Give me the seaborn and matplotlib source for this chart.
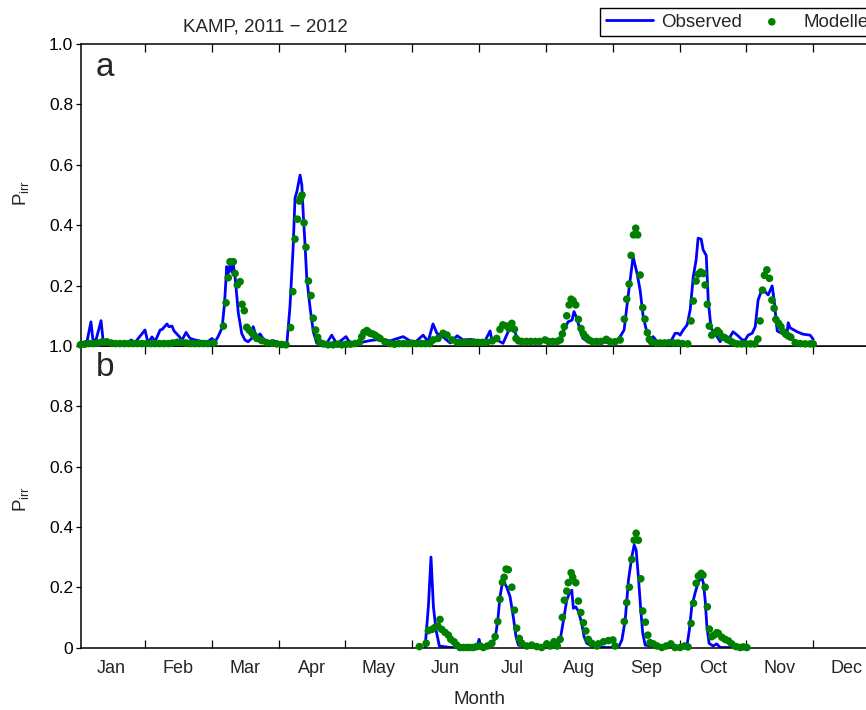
import numpy as np
import pandas as pd
import matplotlib
matplotlib.use("Agg")
import matplotlib.pyplot as plt
import seaborn as sns

# ---------------- data (day of year, probability of irrigation) ----------------
months = ["Jan", "Feb", "Mar", "Apr", "May", "Jun", "Jul", "Aug", "Sep", "Oct", "Nov", "Dec"]

obs_a_day = [0.8, 4.0, 5.8, 6.7, 8.1, 10.4, 11.3, 14.5, 19.0, 23.6, 24.0, 25.9, 30.4, 31.8, 33.6, 35.0,
             37.3, 38.2, 40.4, 41.3, 42.7, 43.6, 45.4, 47.3, 49.1, 50.9, 53.2, 56.4, 59.1, 60.9, 62.3,
             63.6, 65.5, 66.6, 67.6, 68.3, 69.1, 69.9, 70.6, 71.4, 72.2, 72.9, 73.7, 74.4, 75.9, 77.3,
             79.0, 79.7, 81.0, 82.8, 84.1, 86.4, 88.7, 91.0, 92.8, 94.1, 95.0, 96.4, 97.8, 98.7, 99.5,
             101.0, 101.8, 102.5, 103.3, 104.0, 105.5, 107.0, 108.6, 110.1, 111.5, 113.3, 115.4, 117.7,
             121.9, 123.7, 128.3, 132.9, 137.4, 142.0, 147.9, 151.1, 153.8, 157.0, 159.3, 161.5, 163.3,
             166.1, 169.3, 172.5, 175.2, 178.4, 182.9, 185.2, 187.5, 188.3, 190.6, 193.4, 195.7, 197.5,
             198.9, 200.2, 205.7, 212.5, 219.4, 220.7, 223.0, 224.8, 225.7, 227.1, 228.4, 229.8, 232.1,
             237.6, 244.4, 246.7, 248.5, 250.3, 252.2, 252.6, 254.4, 255.8, 257.2, 259.0, 260.4, 261.7,
             263.5, 266.3, 269.5, 271.7, 273.1, 274.0, 275.4, 277.2, 278.6, 280.0, 281.3, 282.2, 283.6,
             284.5, 285.9, 286.8, 288.1, 290.0, 292.2, 293.6, 295.9, 298.1, 300.0, 302.3, 303.6, 305.0,
             306.8, 308.2, 309.5, 311.4, 312.7, 314.1, 315.9, 316.8, 318.2, 319.1, 320.9, 322.7, 323.2,
             324.1, 327.3, 330.0, 333.2, 334.6]
obs_a_val = [0.01, 0.015, 0.08, 0.02, 0.02, 0.084, 0.02, 0.01, 0.01, 0.01, 0.02, 0.012, 0.053, 0.01, 0.03, 0.015,
             0.053, 0.055, 0.073, 0.064, 0.066, 0.05, 0.036, 0.02, 0.045, 0.025, 0.02, 0.015, 0.015, 0.025, 0.015,
             0.03, 0.06, 0.14, 0.263, 0.24, 0.268, 0.245, 0.268, 0.23, 0.163, 0.108, 0.075, 0.042, 0.02, 0.014,
             0.025, 0.064, 0.03, 0.04, 0.025, 0.014, 0.018, 0.012, 0.009, 0.003, 0.009, 0.13, 0.32, 0.49, 0.51,
             0.566, 0.533, 0.43, 0.33, 0.23, 0.13, 0.048, 0.009, 0.012, 0.003, 0.011, 0.036, 0.007,
             0.031, 0.011, 0.011, 0.018, 0.022, 0.017, 0.031, 0.017, 0.015, 0.036, 0.015, 0.073, 0.042,
             0.03, 0.01, 0.034, 0.02, 0.022, 0.017, 0.017, 0.05, 0.02, 0.02, 0.009, 0.047, 0.07,
             0.045, 0.017, 0.017, 0.017, 0.017, 0.047, 0.08, 0.086, 0.114, 0.09, 0.053, 0.025, 0.014,
             0.014, 0.009, 0.031, 0.053, 0.163, 0.274, 0.296, 0.24, 0.185, 0.097, 0.042, 0.02, 0.031,
             0.015, 0.009, 0.011, 0.042, 0.042, 0.036, 0.053, 0.07, 0.12, 0.23, 0.285, 0.357, 0.354,
             0.318, 0.30, 0.152, 0.058, 0.042, 0.014, 0.031, 0.02, 0.047, 0.036, 0.02, 0.02, 0.036,
             0.042, 0.064, 0.152, 0.19, 0.18, 0.169, 0.199, 0.152, 0.05, 0.046, 0.042, 0.042, 0.077,
             0.06, 0.047, 0.039, 0.036, 0.022]

mod_a_day = [1, 3, 5, 7, 9, 11, 13, 15, 17, 19, 21, 23, 25, 27, 29, 31, 33, 35, 37, 39, 41, 43, 45, 47, 49,
             51, 53, 55, 57, 59, 61.8, 66.1, 67.3, 68.3, 69.1, 70.6, 71.4, 72.4, 73.7, 74.6, 75.6, 76.7,
             77.8, 79.0, 80.0, 81.3, 83.5, 85.8, 88.1, 90.4, 92.7, 94.6, 96.7, 97.7, 98.7, 99.8, 100.7,
             101.3, 101.9, 102.8, 103.7, 104.8, 106.0, 107.0, 108.1, 109.0, 110.1, 111.6, 113.7, 116,
             118, 120, 122, 124, 126, 128, 129.1, 130.1, 131.4, 132.0, 132.9, 134.0, 135.1, 136.2,
             137.4, 139.6, 142, 144, 146, 148, 150, 152, 154, 156, 158, 160, 161.5, 163.8, 166.1, 167.9,
             170.2, 172.5, 174, 176, 178, 180, 182, 184, 186, 188.5, 190.5, 192.0, 193.3, 195.1, 196.1,
             197.4, 198.6, 199.3, 200.5, 202, 204, 206, 208, 210, 212.5, 214, 216, 218, 219.4, 220.4,
             221.3, 222.4, 223.5, 224.4, 225.3, 226.5, 227.7, 228.9, 230.0, 231.2, 232.5, 234, 236, 238,
             240.4, 242, 244.4, 246.7, 248.6, 249.7, 250.8, 251.7, 252.8, 253.8, 254.7, 255.8, 257.0,
             258.0, 259.1, 260.0, 261.0, 263, 265, 267, 269, 271, 273, 275, 277.5, 279.0, 280.0, 281.3,
             282.3, 283.4, 284.6, 285.4, 286.4, 287.3, 288.4, 289.6, 291.0, 291.9, 293.0, 294.2, 295.5,
             296.8, 298.1, 300, 302, 304, 306, 308, 309.4, 310.4, 311.5, 312.4, 313.5, 314.7, 315.8,
             316.8, 317.6, 318.8, 319.9, 321.0, 322.1, 323.3, 324.4, 326.4, 328.7, 331.0, 333.2, 334.6]
mod_a_val = [0.004, 0.006, 0.008, 0.008, 0.01, 0.014, 0.014, 0.01, 0.008, 0.008, 0.008, 0.008, 0.008, 0.008,
             0.008, 0.008, 0.008, 0.008, 0.008, 0.008, 0.008, 0.01, 0.012, 0.012, 0.01,
             0.008, 0.008, 0.008, 0.008, 0.008, 0.01, 0.066, 0.143, 0.226, 0.279, 0.279, 0.24, 0.202, 0.213,
             0.138, 0.117, 0.062, 0.053, 0.044, 0.036, 0.025, 0.018, 0.011, 0.009, 0.007, 0.005, 0.004,
             0.061, 0.18, 0.354, 0.42, 0.48, 0.49, 0.5, 0.408, 0.327, 0.215, 0.167, 0.092, 0.053, 0.029,
             0.011, 0.007, 0.004, 0.004, 0.006, 0.004, 0.006, 0.006, 0.008, 0.012, 0.031, 0.045, 0.051,
             0.047, 0.042, 0.04, 0.036, 0.03, 0.025, 0.014, 0.008, 0.006, 0.008, 0.008, 0.008, 0.008,
             0.008, 0.008, 0.008, 0.008, 0.02, 0.025, 0.042, 0.036, 0.02, 0.012, 0.012, 0.012, 0.012,
             0.012, 0.012, 0.012, 0.012, 0.017, 0.025, 0.055, 0.07, 0.066, 0.058, 0.075, 0.055, 0.025,
             0.017, 0.015, 0.015, 0.015, 0.015, 0.015, 0.02, 0.015, 0.015, 0.015, 0.02, 0.04, 0.064, 0.1,
             0.136, 0.155, 0.15, 0.136, 0.088, 0.058, 0.04, 0.029, 0.02, 0.015, 0.015, 0.015, 0.022, 0.015,
             0.014, 0.02, 0.089, 0.155, 0.205, 0.30, 0.368, 0.39, 0.368, 0.235, 0.127, 0.089, 0.044, 0.022,
             0.014, 0.01, 0.01, 0.01, 0.011, 0.01, 0.01, 0.008, 0.007, 0.083, 0.149, 0.215, 0.238, 0.245,
             0.24, 0.202, 0.138, 0.066, 0.036, 0.042, 0.051, 0.044, 0.031, 0.028, 0.022, 0.017, 0.011,
             0.007, 0.007, 0.007, 0.007, 0.007, 0.023, 0.083, 0.185, 0.234, 0.252, 0.224, 0.152, 0.125,
             0.088, 0.075, 0.064, 0.047, 0.039, 0.033, 0.029, 0.011, 0.008, 0.007, 0.007, 0.007]

obs_b_day = [157.9, 159.4, 160.6, 161.7, 162.9, 164.4, 169.3, 173.8, 178.4, 181.4, 182.5, 183.4, 188.3, 189.8,
             191.0, 192.0, 193.0, 194.0, 195.1, 196.6, 198.1, 199.3, 200.4, 205.7, 212.5, 217.9, 219.4,
             220.9, 222.4, 223.6, 224.7, 225.4, 226.5, 227.7, 229.2, 230.3, 231.5, 233.8, 239.9, 245.9,
             247.5, 249.0, 250.5, 252.0, 253.1, 254.0, 255.0, 256.1, 257.0, 258.1, 264.9, 271.7, 277.0,
             278.2, 279.3, 280.8, 282.3, 283.9, 284.6, 285.4, 286.2, 287.2, 289.0, 290.7, 292.2, 299.0,
             304.4]
obs_b_val = [0.0, 0.135, 0.30, 0.135, 0.058, 0.005, 0.0, 0.0, 0.0, 0.0, 0.027, 0.0, 0.008, 0.03,
             0.09, 0.168, 0.21, 0.215, 0.2, 0.168, 0.1, 0.036, 0.008, 0.0, 0.0, 0.0, 0.025,
             0.09, 0.157, 0.18, 0.19, 0.13, 0.135, 0.12, 0.08, 0.036, 0.014, 0.005, 0.0, 0.0,
             0.025, 0.09, 0.224, 0.30, 0.34, 0.323, 0.235, 0.124, 0.047, 0.008, 0.0, 0.0, 0.0,
             0.058, 0.135, 0.18, 0.218, 0.233, 0.213, 0.158, 0.069, 0.014, 0.005, 0.012, 0.0, 0.0,
             0.003]

mod_b_day = [155.3, 158.4, 159.4, 161.0, 162.5, 163.7, 164.7, 165.5, 167.0, 168.5, 169.6, 171.1, 172.3, 173.8,
             175.3, 176.9, 178.4, 179.9, 181.4, 182.9, 184.4, 186.3, 188.3, 189.8, 191.0, 192.0, 193.1,
             193.9, 194.8, 195.8, 197.4, 198.6, 199.6, 200.8, 201.9, 204.2, 206.5, 208.8, 211.0, 213.3,
             214.8, 216.6, 218.1, 219.4, 220.4, 221.3, 222.4, 223.1, 224.4, 225.1, 226.5, 227.7, 228.8,
             230.0, 231.1, 232.2, 233.8, 236.1, 236.8, 239.1, 241.4, 243.4, 244.4, 248.6, 249.7, 250.9,
             252.0, 253.1, 254.0, 255.0, 256.1, 257.0, 258.2, 259.3, 260.3, 261.8, 263.5, 265.7, 267.7,
             269.8, 271.7, 274.0, 276.0, 277.6, 279.0, 280.1, 281.3, 282.3, 283.6, 284.4, 285.4, 286.4,
             287.3, 288.4, 289.5, 290.7, 291.4, 293.0, 294.5, 296.0, 297.5, 299.5, 301.3, 302.8, 304.4]
mod_b_val = [0.003, 0.014, 0.056, 0.06, 0.067, 0.071, 0.093, 0.06, 0.05, 0.041, 0.027, 0.019, 0.008, 0.0,
             0.0, 0.0, 0.0, 0.0, 0.003, 0.005, 0.0, 0.005, 0.014, 0.036, 0.086, 0.16, 0.216,
             0.233, 0.26, 0.258, 0.2, 0.124, 0.064, 0.03, 0.014, 0.005, 0.008, 0.003, 0.0, 0.012,
             0.005, 0.019, 0.005, 0.027, 0.1, 0.157, 0.187, 0.215, 0.248, 0.233, 0.215, 0.154, 0.116,
             0.082, 0.055, 0.027, 0.014, 0.005, 0.012, 0.019, 0.023, 0.025, 0.005, 0.086, 0.149, 0.2,
             0.292, 0.356, 0.379, 0.356, 0.228, 0.121, 0.084, 0.041, 0.016, 0.012, 0.005, 0.0, 0.005,
             0.012, 0.0, 0.0, 0.005, 0.002, 0.08, 0.147, 0.213, 0.237, 0.246, 0.24, 0.2, 0.135,
             0.061, 0.036, 0.041, 0.049, 0.047, 0.034, 0.027, 0.022, 0.012, 0.003, 0.0, 0.002, 0.0]

# ---------------- style ----------------
sns.set_theme(style="white")
plt.rcParams["font.family"] = ["Liberation Sans", "DejaVu Sans"]
plt.rcParams["mathtext.fontset"] = "custom"
plt.rcParams["mathtext.rm"] = "Liberation Sans"
plt.rcParams["mathtext.it"] = "Liberation Sans"

W, H = 866, 710
fig = plt.figure(figsize=(W / 100, H / 100), dpi=100)
fig.patch.set_facecolor("white")

left = 81 / W
width = 799 / W
ax1 = fig.add_axes([left, 1 - 346 / H, width, 302 / H])
ax2 = fig.add_axes([left, 1 - 647.5 / H, width, 301.5 / H])
ax2.patch.set_visible(False)
ax1.set_zorder(3)
ax2.set_zorder(2)

blue = (0, 0, 1)
green = (0, 0.5, 0)

days_per_month = 365 / 12
month_edges = [days_per_month * k for k in range(1, 12)]
month_centers = [days_per_month * (k + 0.5) for k in range(12)]

for ax, od, ov, md, mv in [(ax1, obs_a_day, obs_a_val, mod_a_day, mod_a_val),
                           (ax2, obs_b_day, obs_b_val, mod_b_day, mod_b_val)]:
    dfo = pd.DataFrame({"day": od, "p": ov})
    dfm = pd.DataFrame({"day": md, "p": mv})
    sns.lineplot(data=dfo, x="day", y="p", ax=ax, color=blue, lw=2.0, sort=False,
                 estimator=None, label="Observed", legend=False, zorder=2)
    sns.scatterplot(data=dfm, x="day", y="p", ax=ax, color=green, s=30, edgecolor="none",
                    linewidth=0, label="Modelled", legend=False, zorder=3)
    for coll in ax.collections:
        coll.set_clip_on(False)
    ax.set_xlim(1.27, 365)
    ax.set_ylim(0, 1)
    ax.set_xlabel("")
    ax.set_ylabel("")
    for sp in ax.spines.values():
        sp.set_color("black")
        sp.set_linewidth(1.1)
    ax.set_yticks([0, 0.2, 0.4, 0.6, 0.8, 1.0])
    ax.tick_params(axis="y", direction="out", length=3.5, width=0.9, labelsize=12.5, pad=2,
                   left=True, right=False, colors="black")
    ax.set_xticks(month_edges)
    ax.set_xticks(month_centers, minor=True)

ax1.set_yticklabels(["", "0.2", "0.4", "0.6", "0.8", "1.0"])
ax2.set_yticklabels(["0", "0.2", "0.4", "0.6", "0.8", "1.0"])

ax1.tick_params(axis="x", which="major", direction="in", length=6, width=0.9,
                top=True, bottom=False, labelbottom=False, color="black")
ax1.tick_params(axis="x", which="minor", length=0, labelbottom=False)
ax2.tick_params(axis="x", which="major", direction="in", length=6, width=0.9,
                top=True, bottom=True, labelbottom=False, color="black")
ax2.tick_params(axis="x", which="minor", length=0, labelbottom=True, labelsize=13, pad=9)
ax2.set_xticklabels(months, minor=True)

# texts
fig.text(265 / W, 1 - 27 / H, "KAMP, 2011 \u2212 2012", ha="center", va="center", fontsize=13.5)
fig.text(96 / W, 1 - 67 / H, "a", ha="left", va="center", fontsize=24)
fig.text(96 / W, 1 - 368 / H, "b", ha="left", va="center", fontsize=24)
fig.text(21 / W, 1 - 193 / H, r"P$_{\rm irr}$", rotation=90, ha="center", va="center", fontsize=13.5)
fig.text(21 / W, 1 - 499 / H, r"P$_{\rm irr}$", rotation=90, ha="center", va="center", fontsize=13.5)
fig.text(480 / W, 1 - 700 / H, "Month", ha="center", va="center", fontsize=13.5)

# legend (extends past the right edge of the figure, as in the original)
handles, labels = ax1.get_legend_handles_labels()
leg = fig.legend(handles, labels, loc="upper left", bbox_to_anchor=(600 / W, 1 - 8 / H),
                 ncol=2, fontsize=13.5, frameon=True, fancybox=False, framealpha=1,
                 edgecolor="black", borderaxespad=0, borderpad=0.3, handlelength=2.5,
                 handletextpad=0.45, columnspacing=0.35, markerscale=1.0)
leg.get_frame().set_linewidth(1.0)

fig.savefig("out.png", dpi=100, facecolor="white")
